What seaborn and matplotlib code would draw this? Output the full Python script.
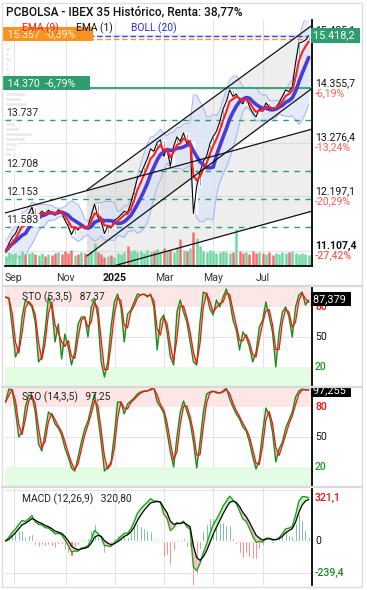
import numpy as np
import pandas as pd
import matplotlib
matplotlib.use("Agg")
import matplotlib.pyplot as plt
import seaborn as sns
from matplotlib.patches import Rectangle
from matplotlib.lines import Line2D
from matplotlib.transforms import Bbox, TransformedBbox

sns.set_theme(style="white")
plt.rcParams['font.family'] = ['Roboto', 'DejaVu Sans']

# ---------------- data ----------------
TITLE = "PCBOLSA - IBEX 35 Histórico, Renta: 38,77%"
month_labels = ["Sep", "Nov", "2025", "Mar", "May", "Jul"]
month_session = [0, 44, 85, 127, 168, 210]      # trading-session index of month starts
first_session = -6.9                              # session index of first sample
session_step = 2.78                               # sessions between samples

closes = [11100, 11250, 11380, 11450, 11600, 11720, 11650, 11850, 11980, 11740,
          11820, 11900, 11850, 11920, 11870, 11820, 11930, 11880, 11720, 11600,
          11430, 11580, 11520, 11620, 11560, 11600, 11820, 12040, 11780, 11700,
          11450, 11600, 11560, 11720, 11760, 11830, 11900, 11870, 12060, 12300,
          12560, 12640, 12800, 12950, 13150, 13100, 13280, 13330, 13000, 13150,
          12800, 13200, 13390, 13300, 13470, 13250, 13300, 11850, 12400, 12680,
          12900, 13000, 13250, 13400, 13500, 13700, 13950, 14100, 14330, 14200,
          14250, 14130, 14050, 14190, 14000, 13870, 13790, 13950, 13900, 14070,
          14000, 13930, 13980, 14070, 14200, 14330, 14300, 14390, 14870, 15270,
          15290, 15330, 15418]

volume = [100, 140, 120, 130, 110, 150, 120, 130, 140, 120,
          110, 130, 100, 120, 110, 130, 140, 120, 150, 130,
          160, 110, 120, 140, 130, 120, 150, 230, 140, 120,
          90, 100, 110, 90, 130, 120, 140, 200, 150, 160,
          140, 150, 130, 160, 140, 150, 170, 140, 180, 150,
          160, 140, 190, 270, 160, 150, 180, 340, 280, 200,
          150, 140, 160, 150, 130, 140, 150, 140, 130, 140,
          370, 150, 130, 140, 120, 150, 130, 140, 130, 120,
          140, 110, 130, 120, 140, 130, 140, 150, 130, 120,
          130, 120, 110]

sto_fast_k = [90, 88, 60, 30, 38, 70, 87, 84, 80, 65,
              25, 30, 57, 90, 80, 45, 63, 28, 53, 40,
              22, 35, 63, 70, 70, 50, 80, 88, 70, 25,
              10, 25, 60, 85, 93, 80, 45, 73, 77, 85,
              93, 92, 93, 90, 93, 80, 37, 67, 72, 55,
              30, 22, 75, 87, 75, 65, 45, 25, 22, 65,
              95, 93, 78, 72, 87, 80, 90, 98, 87, 67,
              57, 37, 55, 50, 40, 25, 35, 60, 67, 85,
              70, 55, 20, 55, 75, 80, 70, 50, 80, 92,
              95, 82, 87]

sto_slow_k = [85, 98, 97, 76, 50, 55, 80, 92, 91, 75,
              43, 36, 55, 75, 72, 63, 59, 52, 39, 30,
              19, 16, 30, 45, 58, 66, 80, 93, 70, 45,
              16, 20, 25, 52, 85, 85, 73, 83, 86, 89,
              93, 95, 96, 96, 98, 99, 85, 80, 74, 55,
              35, 20, 50, 75, 86, 76, 65, 45, 19, 45,
              75, 93, 95, 96, 94, 94, 96, 99, 88, 80,
              73, 68, 60, 56, 45, 30, 18, 27, 55, 79,
              72, 55, 25, 38, 45, 59, 67, 75, 90, 96,
              98, 97, 97]

# volume-at-price profile (left)
profile_price = [15450, 15350, 15250, 15150, 15050, 14950, 14850, 14750, 14650, 14550,
                 14450, 14350, 14250, 14150, 14050, 13950, 13850, 13750, 13650, 13550,
                 13450, 13350, 13250, 13150, 13050, 12950]
profile_width = [2, 4, 3, 5, 4, 6, 3, 4, 5, 6, 8, 14, 20, 16, 22, 18, 25, 12, 10, 14,
                 27, 20, 12, 8, 6, 5]

last_price = 15418.2
prev_high = 15357
support = 14370
level_prices = [13737, 12708, 12153, 11583]
level_labels = ["13.737", "12.708", "12.153", "11.583"]
right_ticks = [15435.1, 14355.7, 13276.4, 12197.1, 11107.4]
right_tick_labels = ["15.435,1", "14.355,7", "13.276,4", "12.197,1", "11.107,4"]
right_pct_labels = ["", "-6,19%", "-13,24%", "-20,29%", "-27,42%"]

# trend lines: (session, price) endpoints
channel_hi = [(61.7, 12325), (252.1, 15633)]
channel_lo = [(61.7, 11002), (252.1, 14370)]
long_hi = [(-7.4, 11864), (252.1, 13548)]
long_lo = [(81.0, 10781), (252.1, 11904)]
shade_start = 61.4

# ---------------- derived ----------------
n = len(closes)
t = first_session + session_step * np.arange(n)
df = pd.DataFrame({"t": t, "close": closes, "vol": volume,
                   "k1": sto_fast_k, "k2": sto_slow_k})
df["open"] = df["close"].shift(1).fillna(df["close"].iloc[0])
df["ema9"] = df["close"].ewm(span=9 / session_step, adjust=False).mean()
df["mid"] = df["close"].rolling(7, min_periods=1).mean()
sd = df["close"].rolling(7, min_periods=2).std().bfill()
df["up"] = df["mid"] + 2 * sd
df["lo"] = df["mid"] - 2 * sd
fast = df["close"].ewm(span=12 / session_step, adjust=False).mean()
slow = df["close"].ewm(span=26 / session_step, adjust=False).mean()
df["macd"] = fast - slow
df["signal"] = df["macd"].ewm(span=9 / session_step, adjust=False).mean()
df["hist"] = df["macd"] - df["signal"]
df["d1"] = df["k1"].rolling(2, min_periods=1).mean()
df["d2"] = df["k2"].rolling(2, min_periods=1).mean()
rising = (df["close"] >= df["open"]).to_numpy()

# ---------------- layout ----------------
W, H = 367, 590
fig = plt.figure(figsize=(W / 100, H / 100), dpi=100)
fig.patch.set_facecolor("white")


def rect(x0, y0, x1, y1):
    return [x0 / W, 1 - y1 / H, (x1 - x0) / W, (y1 - y0) / H]


ax = fig.add_axes(rect(5, 20, 312, 266))
ax1 = fig.add_axes(rect(5, 287, 312, 387), sharex=ax)
ax2 = fig.add_axes(rect(5, 387, 312, 487), sharex=ax)
ax3 = fig.add_axes(rect(5, 487, 312, 585), sharex=ax)
XL = (-7.4, 251.6)
YL = (10801, 15733)

GREEN = "#2e9e6e"
GRID = "#e4e4e4"

for a in (ax, ax1, ax2, ax3):
    a.set_facecolor("white")
    for s in ("top", "left", "bottom"):
        a.spines[s].set_visible(False)
    a.spines["right"].set_color("black")
    a.spines["right"].set_linewidth(1.3)
    a.set_yticks([])
    for m in month_session:
        a.axvline(m, color=GRID, lw=0.8, zorder=0)
ax.set_xlim(*XL)

# ---------------- main panel ----------------
ax.set_ylim(*YL)
ax.spines["bottom"].set_visible(True)
ax.spines["bottom"].set_color("black")
for v in right_ticks:
    ax.axhline(v, color=GRID, lw=0.8, zorder=0)

# volume profile
ax.barh(profile_price, np.array(profile_width) / 1.187, height=85, left=XL[0],
        color="#e9e9e9", zorder=0.5)


def lineval(seg, x):
    (x0, y0), (x1, y1) = seg
    return y0 + (y1 - y0) * (np.asarray(x) - x0) / (x1 - x0)


xs = np.linspace(shade_start, XL[1] + 1, 50)
ax.fill_between(xs, lineval(channel_hi, xs), lineval(channel_lo, xs),
                color="#cfcfcf", alpha=0.35, lw=0, zorder=0.6)
ax.fill_between(xs, lineval(long_hi, xs), lineval(long_lo, xs),
                color="#cfcfcf", alpha=0.35, lw=0, zorder=0.6)

# Bollinger
ax.fill_between(df["t"], df["up"], df["lo"], color="#dce4f7", alpha=0.75, lw=0, zorder=1)
sns.lineplot(x=df["t"], y=df["up"], ax=ax, color="#a6b3ee", lw=0.7, zorder=1.2)
sns.lineplot(x=df["t"], y=df["lo"], ax=ax, color="#a6b3ee", lw=0.7, zorder=1.2)

# volume bars along the bottom of the price panel (1 volume unit = 0.1 px)
vol_scale = (YL[1] - YL[0]) / 246 * 0.1
vol_top = YL[0] + df["vol"].to_numpy() * vol_scale
ax.vlines(df["t"].to_numpy(), YL[0], vol_top, colors=np.where(rising, "#6fd8a2", "#f27070"),
          lw=1.8, zorder=2.5)

# level lines
ax.axhline(prev_high, color="#f0982e", lw=1.0, ls=(0, (4, 2)), zorder=3)
ax.axhline(last_price, color="#2f4bff", lw=1.0, ls=(0, (4, 2)), zorder=3)
ax.axhline(support, color=GREEN, lw=1.3, zorder=3)
for v in level_prices:
    ax.axhline(v, color=GREEN, lw=1.0, ls=(0, (4, 4)), zorder=3)

# candles
body_lo = np.minimum(df["open"], df["close"])
body_h = np.abs(df["close"] - df["open"])
ax.bar(df["t"], body_h, bottom=body_lo, width=1.3,
       color=np.where(rising, "#1f9a5a", "#e53935"), zorder=4)
sns.lineplot(x=df["t"], y=df["close"], ax=ax, color="black", lw=0.75, zorder=5)
sns.lineplot(x=df["t"], y=df["mid"], ax=ax, color="#4a3bd4", lw=2.6, zorder=5.5)
sns.lineplot(x=df["t"], y=df["ema9"], ax=ax, color="#ff1f1f", lw=1.5, zorder=6)

for seg in (channel_hi, channel_lo, long_hi, long_lo):
    xx = [seg[0][0], seg[1][0]]
    ax.plot(xx, lineval(seg, xx), color="#111111", lw=0.9, zorder=7, clip_on=True)

ax.set_xlim(*XL)
ax.set_ylim(*YL)
ax.set_xlabel("")
ax.set_ylabel("")

# right labels
ytr = ax.get_yaxis_transform()
for v, lab, pct in zip(right_ticks, right_tick_labels, right_pct_labels):
    bold = (v == right_ticks[-1])
    ax.text(1.01, v, lab, transform=ytr, ha="left", va="bottom", fontsize=7.6,
            color="#111111", fontweight="bold" if bold else "normal", clip_on=False)
    if pct:
        ax.text(1.01, v, pct, transform=ytr, ha="left", va="top", fontsize=7.6,
                color="#ff5c5c", fontweight="medium" if bold else "normal", clip_on=False)
ax.text(1.004, last_price, "15.418,2 ", transform=ytr, ha="left", va="center",
        fontsize=7.8, color="white", zorder=10, clip_on=False,
        bbox=dict(boxstyle="square,pad=0.22", fc=GREEN, ec="none"))

# left labels
ax.text(0.0, prev_high, " 15.357  -0,39%      ", transform=ytr, ha="left", va="bottom",
        fontsize=7.6, color="#fff4e6", zorder=10,
        bbox=dict(boxstyle="square,pad=0.2", fc="#f7931e", ec="none"))
ax.text(0.0, support, " 14.370  -6,79%     ", transform=ytr, ha="left", va="bottom",
        fontsize=7.6, color="white", zorder=10,
        bbox=dict(boxstyle="square,pad=0.2", fc=GREEN, ec="none"))
for v, lab in zip(level_prices, level_labels):
    ax.text(0.004, v + 40, lab, transform=ytr, ha="left", va="bottom", fontsize=7.6,
            color="#222222", zorder=10,
            bbox=dict(boxstyle="square,pad=0.12", fc="white", ec="none", alpha=0.95))

# legend
ax.text(0.056, 1.0 - 8.5 / 246, "EMA (9)", transform=ax.transAxes, color="#ff1a1a",
        fontsize=7.4, va="center", zorder=11)
ax.text(0.23, 1.0 - 8.5 / 246, "EMA (1)", transform=ax.transAxes, color="#111111",
        fontsize=7.4, va="center", zorder=11)
ax.text(0.41, 1.0 - 8.5 / 246, "BOLL (20)", transform=ax.transAxes, color="#2a2ad8",
        fontsize=7.4, va="center", zorder=11)

# x tick labels
ax.set_xticks(month_session)
ax.set_xticklabels(month_labels)
ax.tick_params(axis="x", length=0, pad=5, labelsize=7.6, colors="#333333")
for lbl in ax.get_xticklabels():
    if lbl.get_text() == "2025":
        lbl.set_fontweight("bold")
        lbl.set_color("#111111")

# ---------------- stochastic panels ----------------
def sto_panel(a, k, d, title, value_label, last_val):
    a.set_ylim(0, 100)
    a.axhspan(80, 100, color="#fde6e6", zorder=0.2, lw=0)
    a.axhspan(0, 20, color="#e4fbe4", zorder=0.2, lw=0)
    a.axhline(50, color=GRID, lw=0.8, zorder=0.3)
    a.fill_between(df["t"], k, d, where=(k >= d), interpolate=True,
                   color="#b9e8b4", lw=0, zorder=1)
    a.fill_between(df["t"], k, d, where=(k < d), interpolate=True,
                   color="#f3bcbc", lw=0, zorder=1)
    sns.lineplot(x=df["t"], y=k, ax=a, color="#1c8c1c", lw=1.0, zorder=2)
    sns.lineplot(x=df["t"], y=d, ax=a, color="#ff1010", lw=0.9, zorder=3)
    a.set_xlabel("")
    a.set_ylabel("")
    a.tick_params(axis="x", length=0, labelbottom=False)
    a.text(0.056, 0.9, title, transform=a.transAxes, fontsize=7.4, color="#222222",
           va="center", zorder=5)
    tr = a.get_yaxis_transform()
    a.text(1.01, 80, "80", transform=tr, color="#ee1111", fontsize=7.6, va="center",
           fontweight="medium", clip_on=False)
    a.text(1.01, 50, "50", transform=tr, color="#111111", fontsize=7.6, va="center",
           clip_on=False)
    a.text(1.01, 20, "20", transform=tr, color="#1a9a1a", fontsize=7.6, va="center",
           fontweight="medium", clip_on=False)
    txt = a.text(1.004, last_val, value_label + " ", transform=tr, color="white",
                 fontsize=7.8, va="center", zorder=10, clip_on=True,
                 bbox=dict(boxstyle="square,pad=0.22", fc="black", ec="none"))
    txt.set_clip_box(TransformedBbox(Bbox([[0, 0], [1.2, 1]]), a.transAxes))


sto_panel(ax1, df["k1"], df["d1"], "STO (5,3,5)   87,37", "87,379", 88.0)
sto_panel(ax2, df["k2"], df["d2"], "STO (14,3,5)   97,25", "97,255", 97.255)
ax1.set_xlim(*XL)

# ---------------- MACD ----------------
ax3.set_ylim(-329, 403)
ax3.axhline(0, color="#cfcfcf", lw=0.9, zorder=0.3)
ax3.axhline(381, color=GRID, lw=0.8, zorder=0.3)
ax3.axhline(-241, color=GRID, lw=0.8, zorder=0.3)
hist_display = df["hist"] * 2.5
ax3.bar(df["t"], hist_display, width=1.7,
        color=np.where(df["hist"] >= 0, "#2e9e6e", "#ff4b4b"), zorder=1)
m, s = df["macd"], df["signal"]
ax3.fill_between(df["t"], m, s, where=(m >= s), interpolate=True,
                 color="#c3f2c0", lw=0, zorder=1.5)
ax3.fill_between(df["t"], m, s, where=(m < s), interpolate=True,
                 color="#f6c3c3", lw=0, zorder=1.5)
sns.lineplot(x=df["t"], y=m, ax=ax3, color="#22a022", lw=1.0, zorder=2)
sns.lineplot(x=df["t"], y=s, ax=ax3, color="black", lw=0.9, zorder=3)
ax3.set_xlabel("")
ax3.set_ylabel("")
ax3.tick_params(axis="x", length=0, labelbottom=False)
ax3.text(0.056, 0.88, "MACD (12,26,9)   320,80", transform=ax3.transAxes, fontsize=7.4,
         color="#222222", va="center", zorder=5)
tr3 = ax3.get_yaxis_transform()
ax3.text(1.01, 321.1, "321,1", transform=tr3, color="#ee1111", fontsize=7.6,
         va="center", fontweight="medium", clip_on=False)
ax3.text(1.01, 0, "0", transform=tr3, color="#111111", fontsize=7.6, va="center",
         clip_on=False)
ax3.text(1.01, -239.4, "-239,4", transform=tr3, color="#1a8a1a", fontsize=7.6,
         va="center", fontweight="medium", clip_on=False)
ax3.set_xlim(*XL)

# ---------------- frame / separators / title ----------------
for py in (286.5, 386.8, 486.8):
    fig.add_artist(Line2D([2 / W, 362 / W], [1 - py / H] * 2, color="#d9d9d9", lw=1.6))
fig.add_artist(Rectangle((2 / W, 1 - 587 / H), 360 / W, 584 / H, fill=False,
                         ec="#dedede", lw=1.0))
fig.text(6 / W, 1 - 12 / H, TITLE, fontsize=8.6, fontweight="medium", color="#111111",
         va="center", ha="left")

fig.savefig("out.png", dpi=100, facecolor="white")
